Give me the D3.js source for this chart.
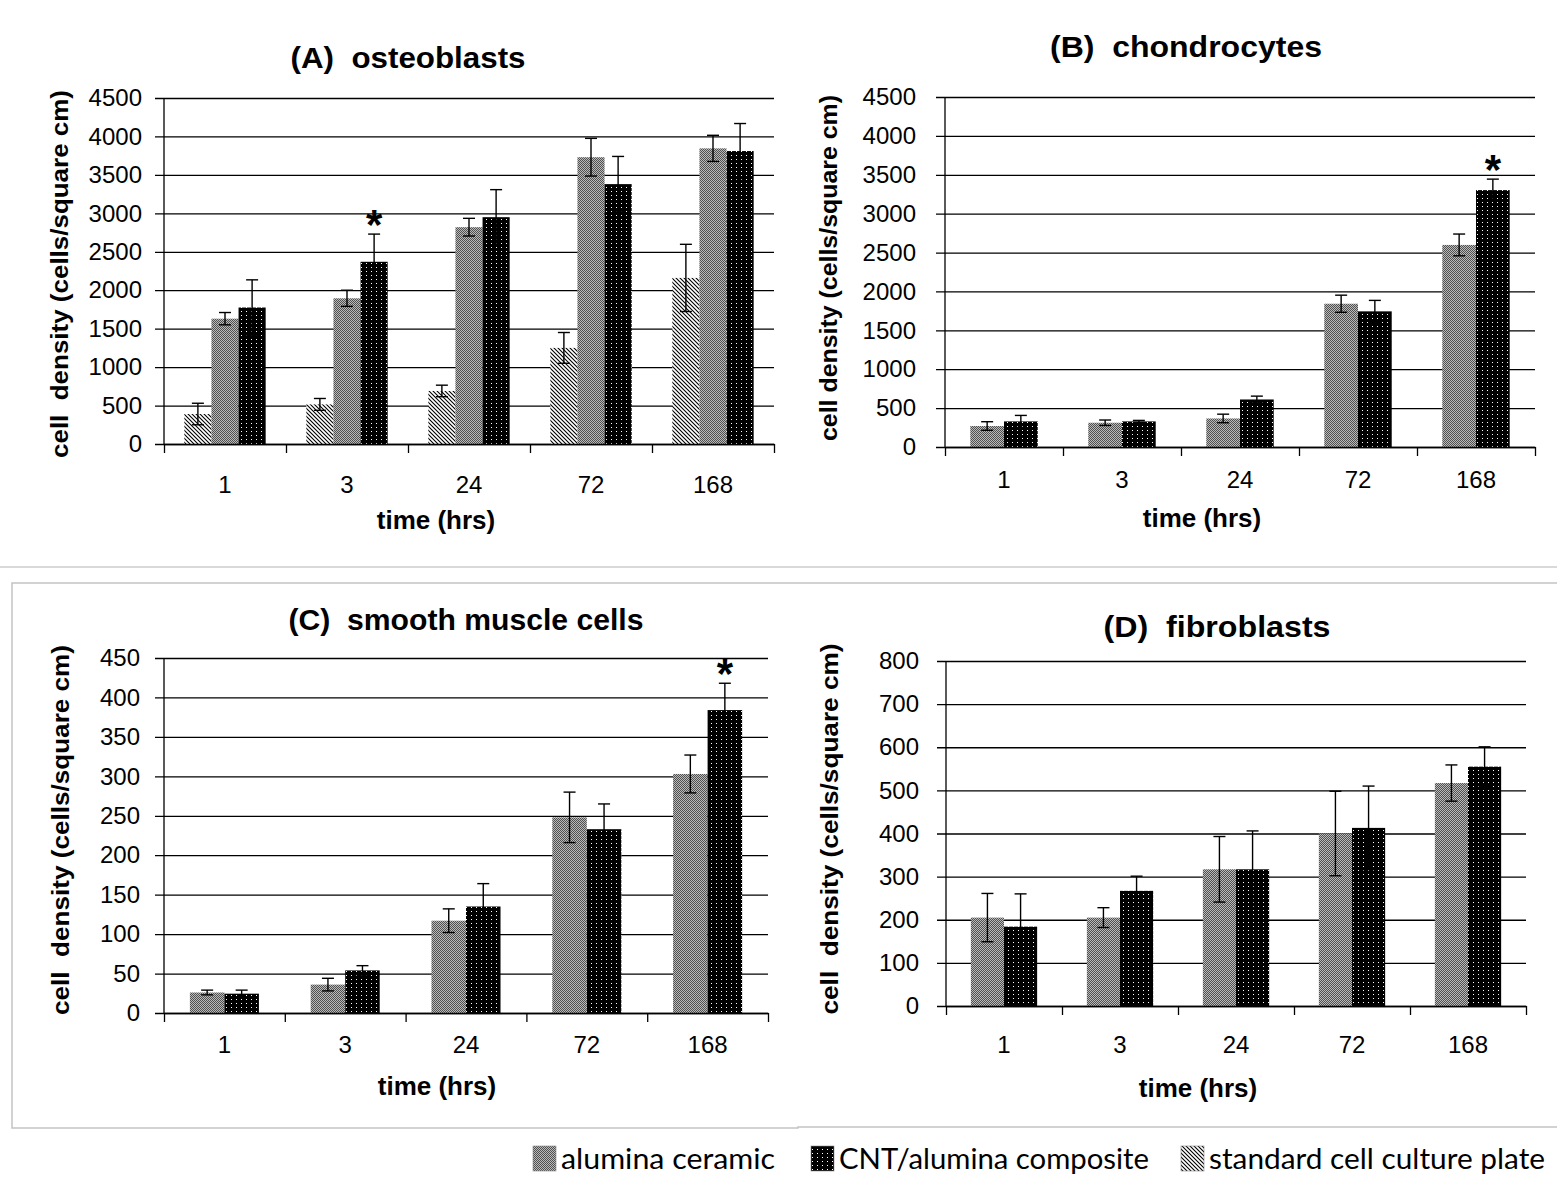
<!DOCTYPE html>
<html>
<head>
<meta charset="utf-8">
<script src="https://cdn.jsdelivr.net/npm/d3@7"></script>
<style>
  body { margin: 0; background: #fff; }
  svg { display: block; font-family: "Liberation Sans", Arial, sans-serif; }
</style>
</head>
<body>
<script>
var width = 1557,
    height = 1182;

var times = ["1", "3", "24", "72", "168"];

// (A) osteoblasts
var osteoPlate = [390, 515, 690, 1250, 2160];
var osteoPlateErr = [140, 77, 75, 200, 437];
var osteoAlumina = [1630, 1895, 2820, 3730, 3845];
var osteoAluminaErr = [80, 105, 115, 245, 170];
var osteoCNT = [1775, 2370, 2950, 3380, 3810];
var osteoCNTErr = [360, 360, 358, 360, 358];

// (B) chondrocytes
var chondroAlumina = [270, 312, 367, 1842, 2598];
var chondroAluminaErr = [55, 35, 55, 110, 140];
var chondroCNT = [329, 329, 611, 1744, 3303];
var chondroCNTErr = [77, 13, 43, 141, 141];

// (C) smooth muscle cells
var smcAlumina = [26, 36, 117, 248, 303];
var smcAluminaErr = [3, 8, 15, 32, 24];
var smcCNT = [24.5, 54, 135, 233, 384];
var smcCNTErr = [4.5, 6, 29, 32, 34];

// (D) fibroblasts
var fibroAlumina = [205, 205, 317, 400, 517];
var fibroAluminaErr = [56, 23, 76, 98, 42];
var fibroCNT = [184, 267, 317, 413, 555];
var fibroCNTErr = [76, 34, 89, 97, 46];

var legendNames = ["alumina ceramic", "CNT/alumina composite", "standard cell culture plate"];
var legendPatterns = ["pat-alumina", "pat-cnt", "pat-plate"];

var svg = d3.select("body")
      .append("svg")
      .attr("width", width)
      .attr("height", height)
      .attr("font-family", "'Liberation Sans', Arial, sans-serif");

svg.append("rect").attr("width", width).attr("height", height).attr("fill", "#fff");

// fill patterns, like the old excel ones
var defs = svg.append("defs");

var pAl = defs.append("pattern")
    .attr("id", "pat-alumina")
    .attr("patternUnits", "userSpaceOnUse")
    .attr("width", 2).attr("height", 2);
pAl.append("rect").attr("width", 2).attr("height", 2).attr("fill", "#bababa");
pAl.append("rect").attr("width", 1).attr("height", 1).attr("fill", "#505050");
pAl.append("rect").attr("x", 1).attr("y", 1).attr("width", 1).attr("height", 1).attr("fill", "#505050");

var pCnt = defs.append("pattern")
    .attr("id", "pat-cnt")
    .attr("patternUnits", "userSpaceOnUse")
    .attr("width", 5).attr("height", 4);
pCnt.append("rect").attr("width", 5).attr("height", 4).attr("fill", "#000");
pCnt.append("rect").attr("x", 2).attr("y", 1).attr("width", 1).attr("height", 1).attr("fill", "#fff");

var pPl = defs.append("pattern")
    .attr("id", "pat-plate")
    .attr("patternUnits", "userSpaceOnUse")
    .attr("width", 4).attr("height", 4);
pPl.append("rect").attr("width", 4).attr("height", 4).attr("fill", "#fff");
pPl.append("path")
    .attr("d", "M0,0L4,4M-1,3L1,5M3,-1L5,1")
    .attr("stroke", "#000")
    .attr("stroke-width", 1.1);

var panels = [
  {
    title: "(A)  osteoblasts", titleX: 408, titleY: 58, titleLen: 235,
    left: 164, right: 774, top: 98, bottom: 444,
    yMax: 4500, yStep: 500, tickPad: 22, xLabelPad: 32,
    yLabel: "cell  density (cells/square cm)",
    yLabelX: 60, yLabelY: 274, yLabelLen: 368,
    xTitleX: 436, xTitleY: 520,
    series: [
      {values: osteoPlate, err: osteoPlateErr, pattern: "pat-plate"},
      {values: osteoAlumina, err: osteoAluminaErr, pattern: "pat-alumina"},
      {values: osteoCNT, err: osteoCNTErr, pattern: "pat-cnt"}
    ],
    star: 1
  },
  {
    title: "(B)  chondrocytes", titleX: 1186, titleY: 47, titleLen: 272,
    left: 945, right: 1535, top: 97, bottom: 447,
    yMax: 4500, yStep: 500, tickPad: 29, xLabelPad: 24,
    yLabel: "cell density (cells/square cm)",
    yLabelX: 829, yLabelY: 268, yLabelLen: 346,
    xTitleX: 1202, xTitleY: 518,
    series: [
      {values: chondroAlumina, err: chondroAluminaErr, pattern: "pat-alumina"},
      {values: chondroCNT, err: chondroCNTErr, pattern: "pat-cnt"}
    ],
    star: 4
  },
  {
    title: "(C)  smooth muscle cells", titleX: 466, titleY: 620, titleLen: 355,
    left: 164, right: 768, top: 658, bottom: 1013,
    yMax: 450, yStep: 50, tickPad: 24, xLabelPad: 23,
    yLabel: "cell  density (cells/square cm)",
    yLabelX: 61, yLabelY: 830, yLabelLen: 370,
    xTitleX: 437, xTitleY: 1086,
    series: [
      {values: smcAlumina, err: smcAluminaErr, pattern: "pat-alumina"},
      {values: smcCNT, err: smcCNTErr, pattern: "pat-cnt"}
    ],
    star: 4
  },
  {
    title: "(D)  fibroblasts", titleX: 1217, titleY: 627, titleLen: 227,
    left: 946, right: 1526, top: 661, bottom: 1006,
    yMax: 800, yStep: 100, tickPad: 27, xLabelPad: 30,
    yLabel: "cell  density (cells/square cm)",
    yLabelX: 830, yLabelY: 829, yLabelLen: 371,
    xTitleX: 1198, xTitleY: 1088,
    series: [
      {values: fibroAlumina, err: fibroAluminaErr, pattern: "pat-alumina"},
      {values: fibroCNT, err: fibroCNTErr, pattern: "pat-cnt"}
    ],
    star: null
  }
];

function drawPanel(p) {
  var w = p.right - p.left,
      h = p.bottom - p.top;
  var g = svg.append("g").attr("transform", "translate(" + p.left + "," + p.top + ")");

  var x = d3.scaleBand().domain(times).range([0, w]);
  var y = d3.scaleLinear().domain([0, p.yMax]).range([h, 0]);
  var n = p.series.length;
  var barW = x.bandwidth() / (n + 1.5);   // gap width 150%
  var xs = d3.scaleBand()
    .domain(d3.range(n))
    .range([(x.bandwidth() - n * barW) / 2, (x.bandwidth() + n * barW) / 2]);

  // gridlines + y ticks
  var yAxis = g.append("g")
    .call(d3.axisLeft(y)
      .tickValues(d3.range(0, p.yMax + 1, p.yStep))
      .tickFormat(d3.format("d"))
      .tickSizeInner(-w)
      .tickSizeOuter(0)
      .tickPadding(p.tickPad))
    .attr("font-family", null)
    .attr("font-size", 24);
  yAxis.select(".domain").remove();
  yAxis.selectAll(".tick line")
    .attr("x1", -9)
    .attr("stroke", "#000")
    .attr("stroke-width", 1.3);
  yAxis.selectAll(".tick text").attr("fill", "#000");

  // bars
  p.series.forEach(function(s, si) {
    g.selectAll(null)
      .data(s.values)
      .enter()
      .append("rect")
      .attr("x", function(d, i) { return x(times[i]) + xs(si); })
      .attr("y", function(d) { return y(d); })
      .attr("width", xs.bandwidth())
      .attr("height", function(d) { return h - y(d); })
      .attr("fill", "url(#" + s.pattern + ")");
  });

  // x axis: ticks between categories
  var xEdge = d3.scaleLinear().domain([0, times.length]).range([0, w]);
  var xAxis = g.append("g")
    .attr("transform", "translate(0," + h + ")")
    .call(d3.axisBottom(xEdge).tickValues(d3.range(0, times.length + 1)).tickFormat("").tickSizeOuter(0).tickSizeInner(9));
  xAxis.selectAll("line, path").attr("stroke", "#000").attr("stroke-width", 1.3);

  var xLab = g.append("g")
    .attr("transform", "translate(0," + h + ")")
    .call(d3.axisBottom(x).tickSize(0).tickPadding(p.xLabelPad))
    .attr("font-family", null)
    .attr("font-size", 24);
  xLab.select(".domain").remove();
  xLab.selectAll(".tick text").attr("fill", "#000");

  // y axis line
  g.append("line")
    .attr("x1", 0).attr("x2", 0)
    .attr("y1", 0).attr("y2", h)
    .attr("stroke", "#000")
    .attr("stroke-width", 1.3);

  // error bars
  p.series.forEach(function(s, si) {
    s.values.forEach(function(v, i) {
      var cx = x(times[i]) + xs(si) + xs.bandwidth() / 2;
      var e = s.err[i];
      var eb = g.append("g").attr("stroke", "#000").attr("stroke-width", 1.4);
      eb.append("line").attr("x1", cx).attr("x2", cx).attr("y1", y(v + e)).attr("y2", y(v - e));
      eb.append("line").attr("x1", cx - 6).attr("x2", cx + 6).attr("y1", y(v + e)).attr("y2", y(v + e));
      eb.append("line").attr("x1", cx - 6).attr("x2", cx + 6).attr("y1", y(v - e)).attr("y2", y(v - e));
    });
  });

  // significance star on the composite bar
  if (p.star != null) {
    var cnt = p.series[n - 1];
    g.append("text")
      .attr("x", x(times[p.star]) + xs(n - 1) + xs.bandwidth() / 2)
      .attr("y", y(cnt.values[p.star] + cnt.err[p.star]) + 5)
      .attr("text-anchor", "middle")
      .style("font-size", "42px")
      .style("font-weight", "bold")
      .text("*");
  }

  svg.append("text")
    .attr("x", p.titleX)
    .attr("y", p.titleY)
    .attr("dy", "0.33em")
    .attr("text-anchor", "middle")
    .attr("textLength", p.titleLen)
    .attr("lengthAdjust", "spacingAndGlyphs")
    .style("white-space", "pre")
    .style("font-size", "29px")
    .style("font-weight", "bold")
    .text(p.title);

  svg.append("text")
    .attr("transform", "translate(" + p.yLabelX + "," + p.yLabelY + ") rotate(-90)")
    .attr("dy", "0.35em")
    .attr("text-anchor", "middle")
    .attr("textLength", p.yLabelLen)
    .attr("lengthAdjust", "spacingAndGlyphs")
    .style("white-space", "pre")
    .style("font-size", "23px")
    .style("font-weight", "bold")
    .text(p.yLabel);

  svg.append("text")
    .attr("x", p.xTitleX)
    .attr("y", p.xTitleY)
    .attr("dy", "0.35em")
    .attr("text-anchor", "middle")
    .style("font-size", "26px")
    .style("font-weight", "bold")
    .text("time (hrs)");
}

// panel frames (light gray)
svg.append("line")
  .attr("x1", 0).attr("x2", width).attr("y1", 567).attr("y2", 567)
  .attr("stroke", "#d9d9d9").attr("stroke-width", 2);
svg.append("path")
  .attr("d", "M" + width + ",583H12V1128H798V1127H" + width)
  .attr("fill", "none")
  .attr("stroke", "#c3c3c3")
  .attr("stroke-width", 1.5);

panels.forEach(drawPanel);

// legend
var legendX = [533, 811, 1181],
    legendW = [214, 310, 336];
legendNames.forEach(function(name, i) {
  svg.append("rect")
    .attr("x", legendX[i])
    .attr("y", 1146)
    .attr("width", 23)
    .attr("height", 25)
    .attr("fill", "url(#" + legendPatterns[i] + ")")
    .attr("stroke", "#888")
    .attr("stroke-width", 0.6);
  svg.append("text")
    .attr("x", legendX[i] + 28)
    .attr("y", 1169)
    .attr("textLength", legendW[i])
    .attr("lengthAdjust", "spacingAndGlyphs")
    .style("font-family", "Lato, 'Open Sans', sans-serif")
    .style("font-size", "28px")
    .text(name);
});
</script>
</body>
</html>
